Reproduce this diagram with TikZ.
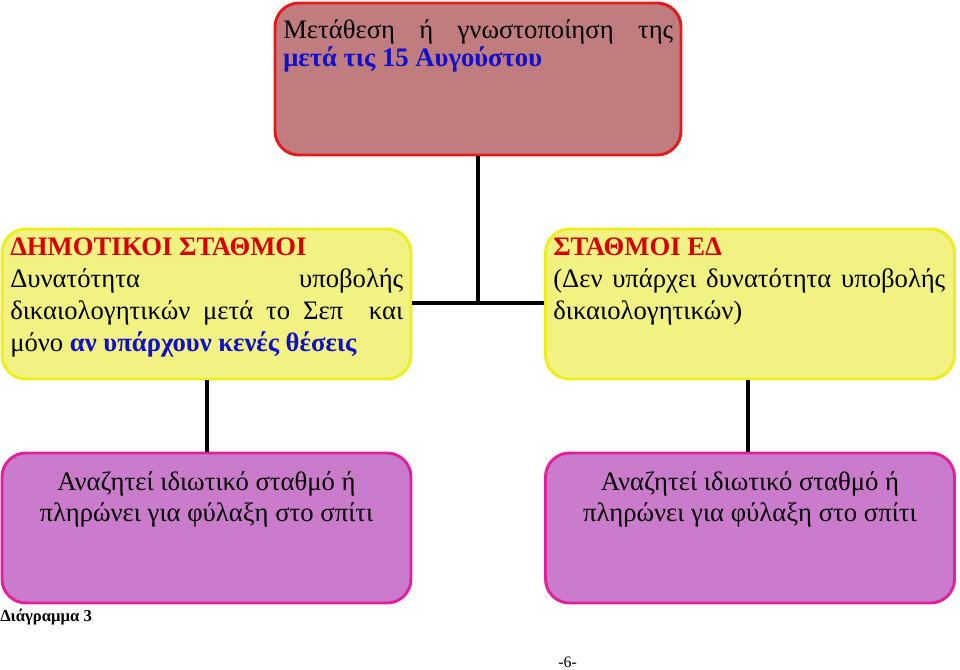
\documentclass[tikz,border=0pt]{standalone}
\usepackage{fontspec}
\setmainfont{Liberation Serif}
\definecolor{topfill}{HTML}{C07C7E}
\definecolor{topdraw}{HTML}{E31B1B}
\definecolor{yelfill}{HTML}{F2F283}
\definecolor{yeldraw}{HTML}{EEEE1E}
\definecolor{magfill}{HTML}{CB7BCB}
\definecolor{magdraw}{HTML}{E0209E}
\definecolor{txtblue}{HTML}{1010CC}
\definecolor{txtred}{HTML}{D80000}
\begin{document}
\begin{tikzpicture}[x=0.75pt,y=-0.75pt,
  box/.style={rectangle,rounded corners=18pt,line width=2.2pt,inner sep=0pt},
  topbox/.style={box,fill=topfill,draw=topdraw,minimum width=304.5pt,minimum height=114pt},
  yelbox/.style={box,fill=yelfill,draw=yeldraw,minimum width=306.75pt,minimum height=112.5pt},
  magbox/.style={box,fill=magfill,draw=magdraw,minimum width=306.75pt,minimum height=112.5pt},
  link/.style={line width=3pt,black},
  txt/.style={inner sep=0pt,anchor=north west,align=justify,font=\fontsize{20}{23.8}\selectfont},
  ctxt/.style={inner sep=0pt,anchor=north,align=center,font=\fontsize{20}{23.5}\selectfont}
]
\useasboundingbox (0,0) rectangle (960,669);
\fill[white] (0,0) rectangle (960,669);
% boxes
\node[topbox] (top) at (478,79) {};
\node[yelbox] (dim) at (206.5,304) {};
\node[yelbox] (ed) at (750,304) {};
\node[magbox] (pl) at (206.5,528) {};
\node[magbox] (pr) at (750,528) {};
% connectors
\coordinate (j) at (478,303);
\draw[link] (top.south) -- (j);
\draw[link] (dim.east |- j) -- (ed.west |- j);
\draw[link] (dim.south) -- (pl.north);
\draw[link] ([xshift=-1.5pt]ed.south) -- ([xshift=-1.5pt]pr.north);
% texts
\node[txt,text width=292.5pt,font=\fontsize{20}{21}\selectfont] (ttop) at (283,19)
  {Μετάθεση ή γνωστοποίηση της\linebreak {\bfseries\color{txtblue}μετά τις 15 Αυγούστου}};
\node[txt,text width=294.75pt] (tdim) at (10,238)
  {{\bfseries\color{txtred}ΔΗΜΟΤΙΚΟΙ ΣΤΑΘΜΟΙ}\\
  Δυνατότητα υποβολής\linebreak
  δικαιολογητικών μετά το Σεπ\ \ και\linebreak
  μόνο {\bfseries\color{txtblue}αν υπάρχουν κενές θέσεις}};
\node[txt,text width=294pt] (ted) at (553,238)
  {{\bfseries\color{txtred}ΣΤΑΘΜΟΙ ΕΔ}\\
  (Δεν υπάρχει δυνατότητα υποβολής\linebreak
  δικαιολογητικών)};
\node[ctxt] (tpl) at (206.5,471) {Αναζητεί ιδιωτικό σταθμό ή\\πληρώνει για φύλαξη στο σπίτι};
\node[ctxt] (tpr) at (750,471) {Αναζητεί ιδιωτικό σταθμό ή\\πληρώνει για φύλαξη στο σπίτι};
\node[inner sep=0pt,anchor=base west,font=\fontsize{12.5}{14}\bfseries] (cap) at (0,621) {Διάγραμμα 3};
\node[inner sep=0pt,anchor=base west,font=\fontsize{12}{14}\selectfont] (pg) at (558,667) {-6-};
\end{tikzpicture}
\end{document}
